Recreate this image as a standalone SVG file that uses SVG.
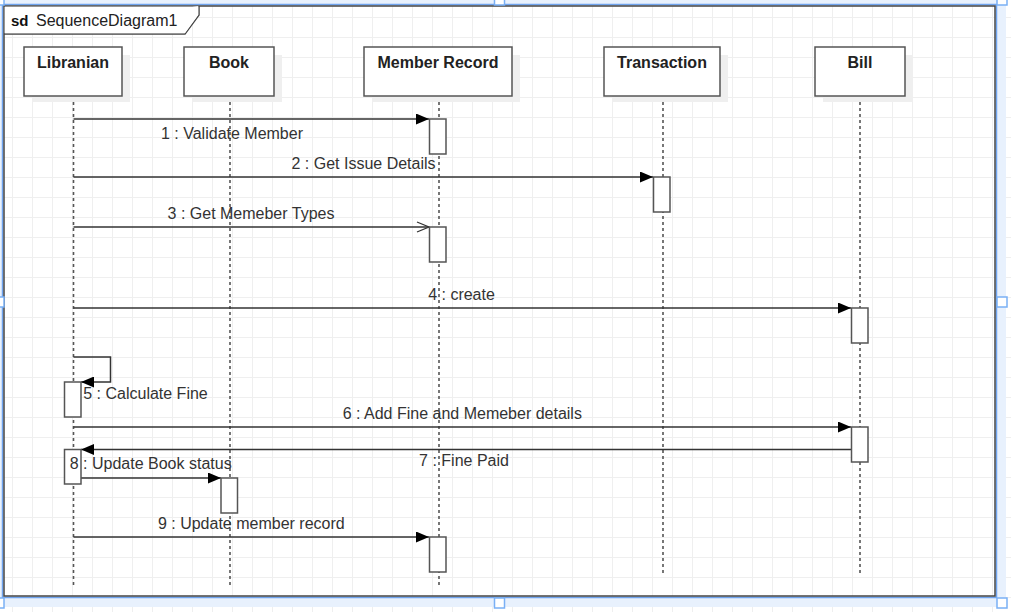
<svg xmlns="http://www.w3.org/2000/svg" width="1011" height="612" viewBox="0 0 1011 612">
  <defs>
    <pattern id="grid" x="12" y="17" width="20" height="20" patternUnits="userSpaceOnUse">
      <path d="M0.5,0 V20 M0,0.5 H20" fill="none" stroke="#efefef" stroke-width="1"/>
    </pattern>
    <marker id="filled" viewBox="0 0 13 11" refX="13" refY="5.5" markerWidth="13" markerHeight="11" markerUnits="userSpaceOnUse" orient="auto">
      <path d="M0,0 L13,5.5 L0,11 Z" fill="#000"/>
    </marker>
    <marker id="open" viewBox="0 0 14 12" refX="13" refY="6" markerWidth="14" markerHeight="12" markerUnits="userSpaceOnUse" orient="auto">
      <path d="M1,1 L13,6 L1,11" fill="none" stroke="#333" stroke-width="1.3"/>
    </marker>
  </defs>
  <style>
    .hdr { fill: #fff; stroke: #555; stroke-width: 1.5; }
    .shadow { fill: #efefef; }
    .hlabel { font-family: "Liberation Sans", Arial, sans-serif; font-size: 16px; font-weight: bold; fill: #222; text-anchor: middle; }
    .life { stroke: #555; stroke-width: 1.6; stroke-dasharray: 3 3; fill: none; }
    .msg { stroke: #333; stroke-width: 1.5; fill: none; }
    .act { fill: #fff; stroke: #555; stroke-width: 1.5; }
    .mlabel { font-family: "Liberation Sans", Arial, sans-serif; font-size: 16px; fill: #333; text-anchor: middle; }
    .handle { fill: #fff; stroke: #7ab0f5; stroke-width: 1.5; }
  </style>

  <rect x="0" y="0" width="1011" height="612" fill="#fff"/>
  <rect x="0" y="0" width="1011" height="612" fill="url(#grid)"/>

  <!-- selection band -->
  <g id="selection">
    <path d="M-5,-5 H1006 V607 H-5 Z M4,6 V596 H995 V6 Z" fill="#e8f1fd" fill-rule="evenodd"/>
    <rect x="2.5" y="4.5" width="994" height="593" fill="none" stroke="#6fa4ee" stroke-width="1.5"/>
  </g>

  <!-- frame -->
  <g id="frame">
    <rect x="4" y="6" width="991" height="590" fill="none" stroke="#444" stroke-width="1.5"/>
    <path d="M4,34 H185 L199,15 V6" fill="#fff" stroke="#444" stroke-width="1.5"/>
    <path d="M4.75,6.75 H198.25 V15 L185,33.25 H4.75 Z" fill="#fff"/>
    <text x="11" y="26" font-family="Liberation Sans, Arial, sans-serif" font-size="15" font-weight="bold" fill="#111">sd</text>
    <text x="36" y="26" font-family="Liberation Sans, Arial, sans-serif" font-size="16" fill="#222">SequenceDiagram1</text>
  </g>

  <!-- lifelines -->
  <g id="lifelines">
    <line class="life" x1="73.5" y1="96" x2="73.5" y2="588"/>
    <line class="life" x1="230" y1="96" x2="230" y2="588"/>
    <line class="life" x1="439" y1="96" x2="439" y2="588"/>
    <line class="life" x1="663" y1="96" x2="663" y2="574"/>
    <line class="life" x1="860" y1="96" x2="860" y2="574"/>
  </g>

  <g id="librarian">
    <rect class="shadow" x="32" y="55" width="98" height="47"/>
    <rect class="hdr" x="24" y="47" width="98" height="49"/>
    <text class="hlabel" x="73" y="68">Libranian</text>
  </g>
  <g id="book">
    <rect class="shadow" x="192" y="55" width="90" height="47"/>
    <rect class="hdr" x="184" y="47" width="90" height="49"/>
    <text class="hlabel" x="229" y="68">Book</text>
  </g>
  <g id="member-record">
    <rect class="shadow" x="372" y="55" width="148" height="47"/>
    <rect class="hdr" x="364" y="47" width="148" height="49"/>
    <text class="hlabel" x="438" y="68">Member Record</text>
  </g>
  <g id="transaction">
    <rect class="shadow" x="612" y="55" width="116" height="47"/>
    <rect class="hdr" x="604" y="47" width="116" height="49"/>
    <text class="hlabel" x="662" y="68">Transaction</text>
  </g>
  <g id="bill">
    <rect class="shadow" x="823" y="55" width="90" height="47"/>
    <rect class="hdr" x="815" y="47" width="90" height="49"/>
    <text class="hlabel" x="860" y="68">Bill</text>
  </g>

  <!-- connectors -->
  <g id="connectors">
    <line class="msg" x1="73.5" y1="119" x2="429" y2="119" marker-end="url(#filled)"/>
    <line class="msg" x1="73.5" y1="177" x2="653" y2="177" marker-end="url(#filled)"/>
    <line class="msg" x1="73.5" y1="227" x2="429" y2="227" marker-end="url(#open)"/>
    <line class="msg" x1="73.5" y1="308" x2="851" y2="308" marker-end="url(#filled)"/>
    <path class="msg" d="M73.5,357 H110.5 V382 H81" marker-end="url(#filled)"/>
    <line class="msg" x1="73.5" y1="427" x2="851" y2="427" marker-end="url(#filled)"/>
    <line class="msg" x1="851" y1="449.5" x2="81" y2="449.5" marker-end="url(#filled)"/>
    <line class="msg" x1="81" y1="478" x2="221" y2="478" marker-end="url(#filled)"/>
    <line class="msg" x1="73.5" y1="537" x2="429" y2="537" marker-end="url(#filled)"/>
  </g>

  <!-- activations -->
  <g id="activations">
    <rect class="act" x="429.5" y="119" width="16.5" height="35"/>
    <rect class="act" x="653.5" y="177" width="16.5" height="35"/>
    <rect class="act" x="429.5" y="227" width="16.5" height="35"/>
    <rect class="act" x="851.5" y="308" width="16.5" height="35"/>
    <rect class="act" x="64.5" y="382" width="16.5" height="35"/>
    <rect class="act" x="851.5" y="427" width="16.5" height="35"/>
    <rect class="act" x="64.5" y="449.5" width="16.5" height="34.5"/>
    <rect class="act" x="221" y="478" width="16.5" height="35"/>
    <rect class="act" x="429.5" y="537" width="16.5" height="35"/>
  </g>

  <!-- labels -->
  <g id="labels">
    <text class="mlabel" x="232" y="139">1 : Validate Member</text>
    <text class="mlabel" x="363.5" y="169">2 : Get Issue Details</text>
    <text class="mlabel" x="251" y="219">3 : Get Memeber Types</text>
    <text class="mlabel" x="461.5" y="300">4 : create</text>
    <text class="mlabel" x="145.5" y="399">5 : Calculate Fine</text>
    <text class="mlabel" x="462.3" y="419">6 : Add Fine and Memeber details</text>
    <text class="mlabel" x="464" y="466">7 : Fine Paid</text>
    <text class="mlabel" x="150.7" y="469">8 : Update Book status</text>
    <text class="mlabel" x="251.3" y="529">9 : Update member record</text>
  </g>

  <!-- selection handles -->
  <g id="handles">
    <rect class="handle" x="-6" y="-5" width="10" height="10"/>
    <rect class="handle" x="494.5" y="-5" width="10" height="10"/>
    <rect class="handle" x="997" y="-5" width="10" height="10"/>
    <rect class="handle" x="-6" y="297" width="10" height="10"/>
    <rect class="handle" x="997" y="297" width="10" height="10"/>
    <rect class="handle" x="-6" y="598" width="10" height="10"/>
    <rect class="handle" x="494.5" y="598" width="10" height="10"/>
    <rect class="handle" x="997" y="598" width="10" height="10"/>
  </g>
</svg>
